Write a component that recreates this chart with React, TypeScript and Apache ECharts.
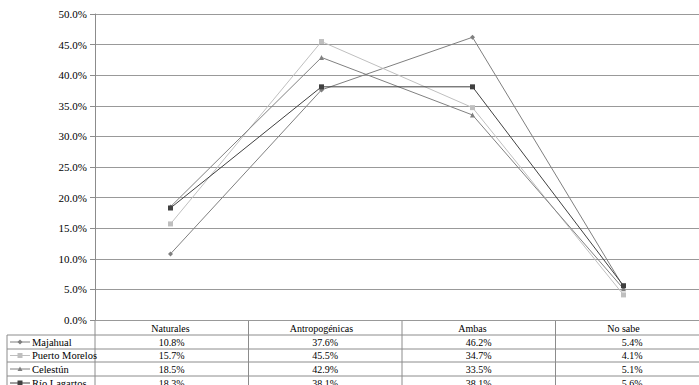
import React, { useEffect, useRef } from "react";
import * as echarts from "echarts";

const categories = ["Naturales", "Antropogénicas", "Ambas", "No sabe"];
const seriesNames = ["Majahual", "Puerto Morelos", "Celestún", "Río Lagartos"];
const majahual = [10.8, 37.6, 46.2, 5.4];
const puertoMorelos = [15.7, 45.5, 34.7, 4.1];
const celestun = [18.5, 42.9, 33.5, 5.1];
const rioLagartos = [18.3, 38.1, 38.1, 5.6];
const seriesValues = [majahual, puertoMorelos, celestun, rioLagartos];
const yTicks = [0, 5, 10, 15, 20, 25, 30, 35, 40, 45, 50];

const colors = ["#7f7f7f", "#bfbfbf", "#808080", "#404040"];
const symbols = ["diamond", "rect", "triangle", "rect"];

const FONT = "Liberation Serif";

export default function App() {
  const ref = useRef<HTMLDivElement>(null);
  useEffect(() => {
    if (!ref.current) return;
    const chart = echarts.init(ref.current, null, { renderer: "svg" });
    const gridLeft = 95;
    const gridTop = 14;
    const gridBottomY = 320;
    const bandW = 153.5;
    const rowYs = [320, 335, 349, 362, 376, 390];
    const tableLeft = 7;
    const right = 699;
    const graphics: any[] = [];
    const lineColor = "#8c8c8c";
    const textStyle = (text: string, align: string, size: number) => ({
      text,
      font: size + "px " + FONT,
      fill: "#000",
      align,
      verticalAlign: "middle",
    });
    for (let r = 1; r < rowYs.length - 1; r++) {
      graphics.push({
        type: "line",
        shape: { x1: tableLeft, y1: rowYs[r], x2: right, y2: rowYs[r] },
        style: { stroke: lineColor, lineWidth: 1 },
      });
    }
    graphics.push({
      type: "line",
      shape: { x1: tableLeft, y1: rowYs[1], x2: tableLeft, y2: 390 },
      style: { stroke: lineColor, lineWidth: 1 },
    });
    graphics.push({
      type: "line",
      shape: { x1: gridLeft, y1: rowYs[0], x2: gridLeft, y2: 390 },
      style: { stroke: lineColor, lineWidth: 1 },
    });
    for (let c = 1; c < categories.length; c++) {
      const x = gridLeft + c * bandW;
      graphics.push({
        type: "line",
        shape: { x1: x, y1: rowYs[0], x2: x, y2: 390 },
        style: { stroke: lineColor, lineWidth: 1 },
      });
    }
    seriesValues.forEach((vals, s) => {
      const yMid = (rowYs[s + 1] + rowYs[s + 2]) / 2;
      vals.forEach((v, c) => {
        graphics.push({
          type: "text",
          x: gridLeft + (c + 0.5) * bandW,
          y: yMid,
          style: textStyle(v.toFixed(1) + "%", "center", 10),
        });
      });
      graphics.push({
        type: "line",
        shape: { x1: 10, y1: yMid, x2: 30, y2: yMid },
        style: { stroke: colors[s], lineWidth: 1 },
      });
      const cx = 20;
      if (symbols[s] === "diamond") {
        graphics.push({
          type: "polygon",
          shape: { points: [[cx, yMid - 2.5], [cx + 2.5, yMid], [cx, yMid + 2.5], [cx - 2.5, yMid]] },
          style: { fill: colors[s] },
        });
      } else if (symbols[s] === "triangle") {
        graphics.push({
          type: "polygon",
          shape: { points: [[cx, yMid - 2.5], [cx + 2.5, yMid + 2], [cx - 2.5, yMid + 2]] },
          style: { fill: colors[s] },
        });
      } else {
        graphics.push({
          type: "rect",
          shape: { x: cx - 2.5, y: yMid - 2.5, width: 5, height: 5 },
          style: { fill: colors[s] },
        });
      }
      graphics.push({
        type: "text",
        x: 32,
        y: yMid,
        style: textStyle(seriesNames[s], "left", 10.5),
      });
    });

    chart.setOption({
      animation: false,
      textStyle: { fontFamily: FONT },
      grid: {
        left: gridLeft,
        top: gridTop,
        width: bandW * categories.length,
        height: gridBottomY - gridTop,
        containLabel: false,
      },
      xAxis: {
        type: "category",
        data: categories,
        boundaryGap: true,
        axisLine: { show: false },
        axisTick: { show: false },
        axisLabel: {
          margin: 8,
          fontFamily: FONT,
          fontSize: 10,
          color: "#000",
          verticalAlign: "middle",
          interval: 0,
        },
      },
      yAxis: {
        type: "value",
        min: yTicks[0],
        max: yTicks[yTicks.length - 1],
        interval: 5,
        axisLine: { show: true, lineStyle: { color: lineColor } },
        axisTick: { show: true, length: 5, lineStyle: { color: lineColor } },
        axisLabel: {
          margin: 8,
          fontFamily: FONT,
          fontSize: 11,
          color: "#000",
          formatter: (v: number) => v.toFixed(1) + "%",
        },
        splitLine: { show: true, lineStyle: { color: "#999", width: 1 } },
      },
      series: seriesValues.map((vals, s) => ({
        name: seriesNames[s],
        type: "line",
        data: vals,
        symbol: symbols[s],
        symbolSize: 5,
        lineStyle: { color: colors[s], width: 1 },
        itemStyle: { color: colors[s] },
        z: 2 + s,
      })),
      graphic: graphics,
    });
    return () => chart.dispose();
  }, []);
  return <div ref={ref} style={{ width: 699, height: 385, position: "absolute", left: 0, top: 0 }} />;
}
